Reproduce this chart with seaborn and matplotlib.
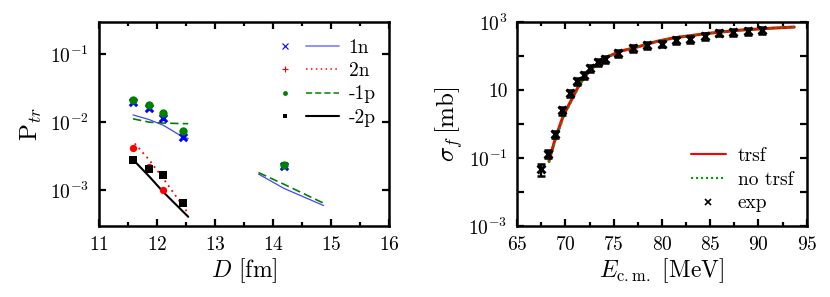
import numpy as np
import pandas as pd
import matplotlib
matplotlib.use("Agg")
import matplotlib.pyplot as plt
import seaborn as sns
from matplotlib.lines import Line2D
from matplotlib.legend_handler import HandlerTuple

# ---- left panel: transfer probabilities ----
D_1n = [11.59, 11.87, 12.11, 12.45, 14.18]
P_1n = [0.0199, 0.0164, 0.0117, 0.0062, 0.0023]
D_m1p = [11.59, 11.87, 12.11, 12.45, 14.18]
P_m1p = [0.0215, 0.0183, 0.0137, 0.0076, 0.0024]
D_2n = [11.59, 11.87, 12.11]
P_2n = [0.0042, 0.0022, 0.0010]
D_m2p = [11.59, 11.87, 12.11, 12.45]
P_m2p = [0.00284, 0.0021, 0.00171, 0.00066]

# model curves (two separate D ranges for 1n / -1p)
Dc_near = [11.59, 11.87, 12.11, 12.45, 12.54]
Dc_far = [13.75, 14.19, 14.87]
c1n_near = [0.0129, 0.0110, 0.0091, 0.0061, 0.0058]
c1n_far = [0.00174, 0.00107, 0.00060]
cm1p_near = [0.0113, 0.0101, 0.0098, 0.0096, 0.0096]
cm1p_far = [0.00183, 0.00123, 0.00065]
Dc_2n = [11.62, 11.87, 12.11, 12.54]
c2n = [0.0049, 0.0028, 0.0015, 0.00046]
Dc_m2p = [11.59, 11.87, 12.11, 12.54]
cm2p = [0.00284, 0.0016, 0.00095, 0.00041]

# ---- right panel: fusion cross section ----
E_exp = [67.5, 68.25, 68.95, 69.65, 70.45, 71.2, 71.9, 72.6, 73.35, 74.1,
         75.5, 77.05, 78.5, 80.0, 81.45, 82.9, 84.45, 85.9, 87.4, 88.9, 90.4]
sig_exp = [0.047, 0.135, 0.52, 2.5, 8.1, 18, 28, 44, 66, 83,
           123, 172, 205, 232, 290, 310, 390, 490, 510, 535, 570]
sig_err = [0.018, 0.035, 0.12, 0.6, 1.9, 4, 6.5, 10, 15, 19,
           28, 39, 46, 52, 65, 70, 88, 110, 115, 120, 128]
E_calc = [68.3, 68.95, 69.8, 70.7, 71.5, 72.4, 73.3, 74.3, 75.7, 77.4,
          79.5, 81.2, 84.6, 88.1, 91.5, 93.7]
sig_trsf = [0.081, 0.37, 1.8, 5.6, 15.5, 34, 60, 93, 138, 182,
            270, 340, 457, 575, 660, 710]
sig_notrsf = [0.072, 0.32, 1.6, 5.1, 14.6, 32, 58, 91, 136, 180,
              268, 338, 455, 573, 658, 708]

sns.set_style("ticks")
plt.rcParams.update({
    "font.family": "serif",
    "font.serif": ["cmr10"],
    "mathtext.fontset": "cm",
    "axes.unicode_minus": False,
    "axes.formatter.use_mathtext": True,
    "axes.linewidth": 1.8,
    "axes.edgecolor": "black",
    "axes.labelcolor": "black",
    "text.color": "black",
    "xtick.color": "black",
    "ytick.color": "black",
})

blue, red, green = "#0000ff", "#ff0000", "#008000"

fig = plt.figure(figsize=(8.3, 2.97), dpi=100)
ax1 = fig.add_axes([0.119, 0.239, 0.350, 0.687])
ax2 = fig.add_axes([0.623, 0.239, 0.349, 0.687])

# left panel lines
for d, v in ((Dc_near, c1n_near), (Dc_far, c1n_far)):
    sns.lineplot(x=d, y=v, ax=ax1, color="#4444ff", lw=0.9, sort=False)
for d, v in ((Dc_near, cm1p_near), (Dc_far, cm1p_far)):
    sns.lineplot(x=d, y=v, ax=ax1, color=green, lw=1.2, dashes=(5, 2.5), sort=False)
sns.lineplot(x=Dc_2n, y=c2n, ax=ax1, color=red, lw=1.3, dashes=(1, 2.3), sort=False)
sns.lineplot(x=Dc_m2p, y=cm2p, ax=ax1, color="black", lw=1.5, sort=False)

# left panel points
sns.scatterplot(x=D_1n, y=P_1n, ax=ax1, marker="x", color=blue, s=28, linewidth=2.2, zorder=3)
sns.scatterplot(x=D_m1p, y=P_m1p, ax=ax1, marker="o", color=green, s=36, linewidth=0, zorder=4)
sns.scatterplot(x=D_2n, y=P_2n, ax=ax1, marker="o", color=red, s=28, linewidth=0, zorder=3)
sns.scatterplot(x=D_m2p, y=P_m2p, ax=ax1, marker="s", color="black", s=34, linewidth=0, zorder=4)

ax1.set_yscale("log")
ax1.set_xlim(11, 16)
ax1.set_ylim(3e-4, 0.3)
ax1.set_xticks([11, 12, 13, 14, 15, 16])
ax1.set_xticks(np.arange(11.5, 16, 1.0), minor=True)
ax1.set_yticks([1e-3, 1e-2, 1e-1], [r"$10^{-3}$", r"$10^{-2}$", r"$10^{-1}$"])
ax1.yaxis.set_minor_locator(matplotlib.ticker.NullLocator())
ax1.set_xlabel(r"$D$ [fm]", fontsize=17, labelpad=2)
ax1.set_ylabel(r"$\mathrm{P}_{tr}$", fontsize=18, labelpad=4)

h = [
    (Line2D([], [], marker="x", color=blue, ls="none", ms=4, mew=0.8),
     Line2D([], [], color="#8888ff", lw=1.3)),
    (Line2D([], [], marker="+", color=red, ls="none", ms=4, mew=0.8),
     Line2D([], [], color=red, lw=1.1, dashes=(1, 2.2))),
    (Line2D([], [], marker="o", color=green, ls="none", ms=3.5, mew=0),
     Line2D([], [], color=green, lw=1.1, dashes=(4, 2))),
    (Line2D([], [], marker="s", color="black", ls="none", ms=3.5, mew=0),
     Line2D([], [], color="black", lw=1.5)),
]
ax1.legend(h, ["1n", "2n", "-1p", "-2p"], handler_map={tuple: HandlerTuple(ndivide=None, pad=0.2)},
           handlelength=3.6, frameon=False, fontsize=14, loc="upper right",
           bbox_to_anchor=(1.0, 0.985), labelspacing=0.28, handletextpad=0.5, borderaxespad=0.3)

# right panel
sns.lineplot(x=E_calc, y=sig_trsf, ax=ax2, color=red, lw=2.2, sort=False)
sns.lineplot(x=E_calc, y=sig_notrsf, ax=ax2, color="#00a000", lw=1.6, dashes=(1, 1.6), sort=False)
ax2.errorbar(E_exp, sig_exp, yerr=sig_err, fmt="none", ecolor="black", elinewidth=1.6, capsize=3.2, capthick=1.8, zorder=3)
sns.scatterplot(x=E_exp, y=sig_exp, ax=ax2, marker="x", color="black", s=32, linewidth=2.2, zorder=4)

ax2.set_yscale("log")
ax2.set_xlim(65, 95)
ax2.set_ylim(1e-3, 1e3)
ax2.set_xticks(np.arange(65, 96, 5))
ax2.set_xticks(np.arange(67.5, 95, 5), minor=True)
ax2.set_yticks([1e-3, 1e-2, 1e-1, 1, 10, 100, 1000],
               [r"$10^{-3}$", "", r"$10^{-1}$", "", "10", "", r"$10^{3}$"])
ax2.yaxis.set_minor_locator(matplotlib.ticker.NullLocator())
ax2.set_xlabel(r"$E_{\mathrm{c.m.}}$ [MeV]", fontsize=17, labelpad=2)
ax2.set_ylabel(r"$\sigma_f\,$[mb]", fontsize=18, labelpad=2)

h2 = [Line2D([], [], color=red, lw=1.5),
      Line2D([], [], color="#00a000", lw=1.5, dashes=(1, 1.4)),
      Line2D([], [], color="black", marker="x", ls="none", ms=5, mew=1.2)]
ax2.legend(h2, ["trsf", "no trsf", "exp"], frameon=False, fontsize=14, loc="lower right",
           handlelength=1.8, labelspacing=0.3, handletextpad=0.6, borderaxespad=0.3)

for ax in (ax1, ax2):
    ax.tick_params(which="both", direction="in", top=True, right=True, width=1.6, labelsize=14)
    ax.tick_params(which="major", length=5, pad=7)
    ax.tick_params(which="minor", length=3)
    for s in ax.spines.values():
        s.set_visible(True)

fig.savefig("out.png", dpi=100)
